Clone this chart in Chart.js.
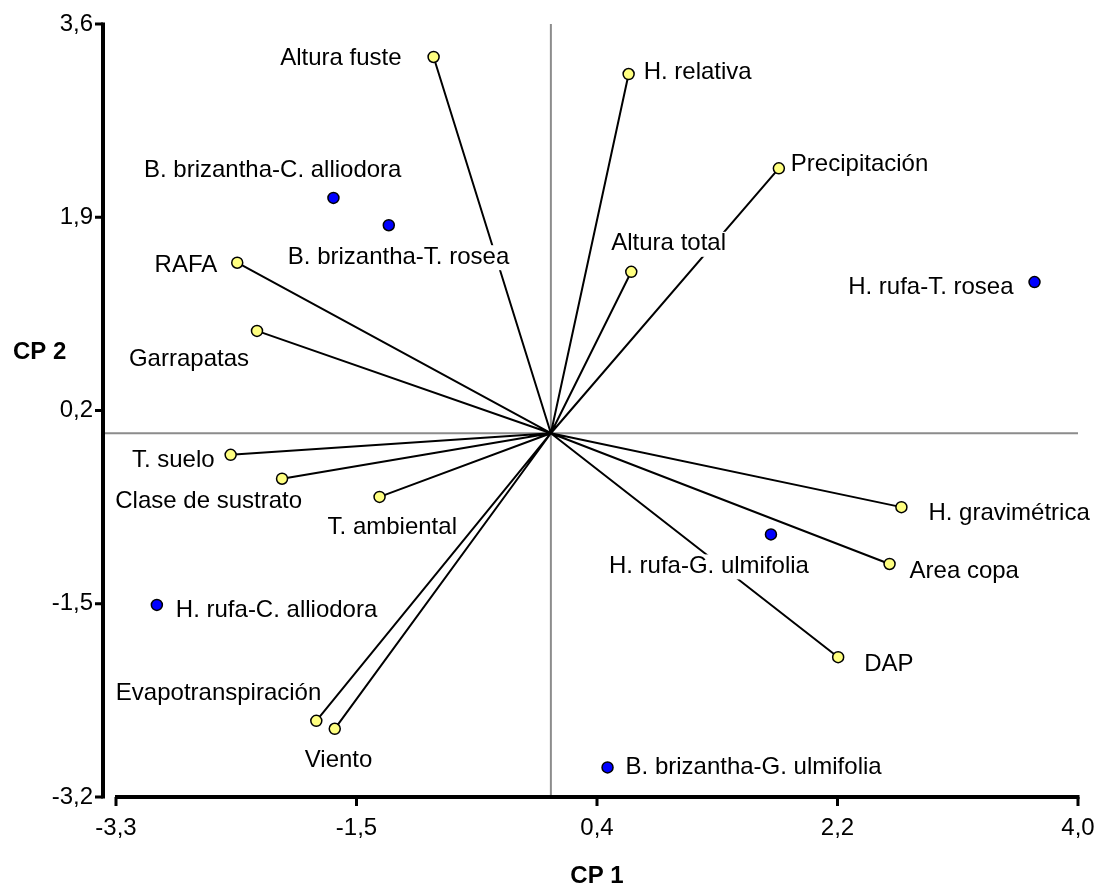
<!DOCTYPE html>
<html>
<head>
<meta charset="utf-8">
<script src="https://cdn.jsdelivr.net/npm/chart.js@4.4.1/dist/chart.umd.min.js"></script>
<style>
  html, body { margin: 0; padding: 0; background: #fff; }
  canvas { display: block; }
</style>
</head>
<body>
<canvas id="biplot" width="1106" height="891"></canvas>
<script>
// variables (vectors from the origin)
const varNames = ['Altura fuste', 'H. relativa', 'Precipitación', 'Altura total', 'RAFA', 'Garrapatas',
    'T. suelo', 'Clase de sustrato', 'T. ambiental', 'Evapotranspiración', 'Viento',
    'H. gravimétrica', 'Area copa', 'DAP'];
const varCp1 = [-0.89, 0.59, 1.73, 0.61, -2.38, -2.23, -2.43, -2.04, -1.30, -1.78, -1.64, 2.66, 2.57, 2.18];
const varCp2 = [3.31, 3.16, 2.33, 1.42, 1.50, 0.90, -0.19, -0.40, -0.56, -2.53, -2.60, -0.65, -1.15, -1.97];

// sites (blue points)
const siteNames = ['B. brizantha-C. alliodora', 'B. brizantha-T. rosea', 'H. rufa-T. rosea',
    'H. rufa-G. ulmifolia', 'H. rufa-C. alliodora', 'B. brizantha-G. ulmifolia'];
const siteCp1 = [-1.65, -1.23, 3.67, 1.67, -2.99, 0.43];
const siteCp2 = [2.07, 1.83, 1.33, -0.89, -1.51, -2.94];

// axis ticks
const xTicks = [-3.3, -1.475, 0.35, 2.175, 4.0];
const xTickLabels = ['-3,3', '-1,5', '0,4', '2,2', '4,0'];
const yTicks = [-3.2, -1.5, 0.2, 1.9, 3.6];
const yTickLabels = ['-3,2', '-1,5', '0,2', '1,9', '3,6'];

// label placement: [dx, dy, align] in px from the point
const varLabelPos = [[-32, 1, 'right'], [15, -2, 'left'], [12, -4, 'left'], [-20, -28, 'left'],
    [-20, 3, 'right'], [-8, 28, 'right'], [-16, 6, 'right'], [20, 23, 'right'], [-52, 30, 'left'],
    [5, -27, 'right'], [-30, 32, 'left'], [27, 6, 'left'], [20, 7, 'left'], [26, 7, 'left']];
const siteLabelPos = [[68, -28, 'right'], [-101, 32, 'left'], [-21, 5, 'right'], [38, 32, 'right'],
    [19, 5, 'left'], [18, 0, 'left']];

const FONT = '"Liberation Sans", Arial, sans-serif';
Chart.defaults.font.family = FONT;
Chart.defaults.color = '#000';

const toPoints = (xs, ys) => xs.map((v, i) => ({x: v, y: ys[i]}));
const vectorData = varCp1.flatMap((v, i) => [{x: 0, y: 0}, {x: v, y: varCp2[i]}, {x: null, y: null}]);

const biplotPlugin = {
    id: 'biplot',
    beforeDatasetsDraw(chart) {
        const {ctx, chartArea: a, scales: {x, y}} = chart;
        const x0 = x.getPixelForValue(0), y0 = y.getPixelForValue(0);
        const yAxisX = a.left - 13;
        ctx.save();
        ctx.strokeStyle = '#8c8c8c';
        ctx.lineWidth = 2;
        ctx.beginPath();
        ctx.moveTo(x0, a.top);
        ctx.lineTo(x0, a.bottom);
        ctx.moveTo(yAxisX, y0);
        ctx.lineTo(a.right, y0);
        ctx.stroke();

        ctx.strokeStyle = '#000';
        ctx.lineWidth = 4;
        ctx.beginPath();
        ctx.moveTo(yAxisX, a.top - 1.5);
        ctx.lineTo(yAxisX, a.bottom + 1.5);
        ctx.moveTo(a.left - 1, a.bottom);
        ctx.lineTo(a.right + 1.5, a.bottom);
        ctx.stroke();
        ctx.lineWidth = 3;
        ctx.beginPath();
        yTicks.forEach(v => {
            const p = y.getPixelForValue(v);
            ctx.moveTo(yAxisX, p);
            ctx.lineTo(yAxisX - 8, p);
        });
        xTicks.forEach(v => {
            const p = x.getPixelForValue(v);
            ctx.moveTo(p, a.bottom);
            ctx.lineTo(p, a.bottom + 9);
        });
        ctx.stroke();

        ctx.font = 'bold 24px ' + FONT;
        ctx.fillStyle = '#000';
        ctx.textAlign = 'left';
        ctx.textBaseline = 'middle';
        ctx.fillText('CP 2', 13, 352);
        ctx.restore();
    },
    afterDatasetsDraw(chart) {
        const {ctx, scales: {x, y}} = chart;
        ctx.save();
        ctx.font = '24px ' + FONT;
        ctx.textBaseline = 'middle';
        const put = (names, xs, ys, place) => names.forEach((t, i) => {
            const [dx, dy, align] = place[i];
            const px = x.getPixelForValue(xs[i]) + dx;
            const py = y.getPixelForValue(ys[i]) + dy;
            const w = ctx.measureText(t).width;
            const left = align === 'right' ? px - w : px;
            ctx.fillStyle = '#fff';
            ctx.fillRect(left - 2, py - 12, w + 4, 25);
            ctx.fillStyle = '#000';
            ctx.textAlign = align;
            ctx.fillText(t, px, py);
        });
        put(varNames, varCp1, varCp2, varLabelPos);
        put(siteNames, siteCp1, siteCp2, siteLabelPos);
        ctx.restore();
    }
};

new Chart(document.getElementById('biplot'), {
    type: 'scatter',
    data: {
        datasets: [{
            data: toPoints(varCp1, varCp2),
            pointRadius: 5.5,
            pointBackgroundColor: '#ffff80',
            pointBorderColor: '#000',
            pointBorderWidth: 1.5,
            order: 1
        }, {
            data: toPoints(siteCp1, siteCp2),
            pointRadius: 5.5,
            pointBackgroundColor: '#0000ff',
            pointBorderColor: '#000',
            pointBorderWidth: 1.5,
            order: 1
        }, {
            data: vectorData,
            showLine: true,
            spanGaps: false,
            pointRadius: 0,
            borderColor: '#000',
            borderWidth: 2,
            order: 3
        }]
    },
    options: {
        responsive: false,
        devicePixelRatio: 1,
        animation: false,
        layout: { padding: { top: 24, right: 28, left: 0, bottom: 0 } },
        plugins: { legend: { display: false }, tooltip: { enabled: false } },
        scales: {
            x: {
                type: 'linear',
                min: -3.3,
                max: 4.0,
                grid: { display: false, drawTicks: false },
                border: { display: false },
                afterBuildTicks: s => { s.ticks = xTicks.map(v => ({value: v})); },
                afterFit: s => {
                    s.height = 94;
                    s.paddingLeft = 0;
                    s.paddingRight = 0;
                },
                ticks: {
                    padding: 17,
                    font: { size: 24 },
                    color: '#000',
                    maxRotation: 0,
                    autoSkip: false,
                    callback: (v, i) => xTickLabels[i]
                },
                title: {
                    display: true,
                    text: 'CP 1',
                    font: { size: 24, weight: 'bold' },
                    color: '#000',
                    padding: { top: 0, bottom: 0 }
                }
            },
            y: {
                type: 'linear',
                min: -3.2,
                max: 3.6,
                grid: { display: false, drawTicks: false },
                border: { display: false },
                afterBuildTicks: s => { s.ticks = yTicks.map(v => ({value: v})); },
                afterFit: s => {
                    s.width = 116;
                    s.paddingTop = 0;
                    s.paddingBottom = 0;
                },
                ticks: {
                    padding: 23,
                    font: { size: 24 },
                    color: '#000',
                    autoSkip: false,
                    callback: (v, i) => yTickLabels[i]
                }
            }
        }
    },
    plugins: [biplotPlugin]
});
</script>
</body>
</html>
